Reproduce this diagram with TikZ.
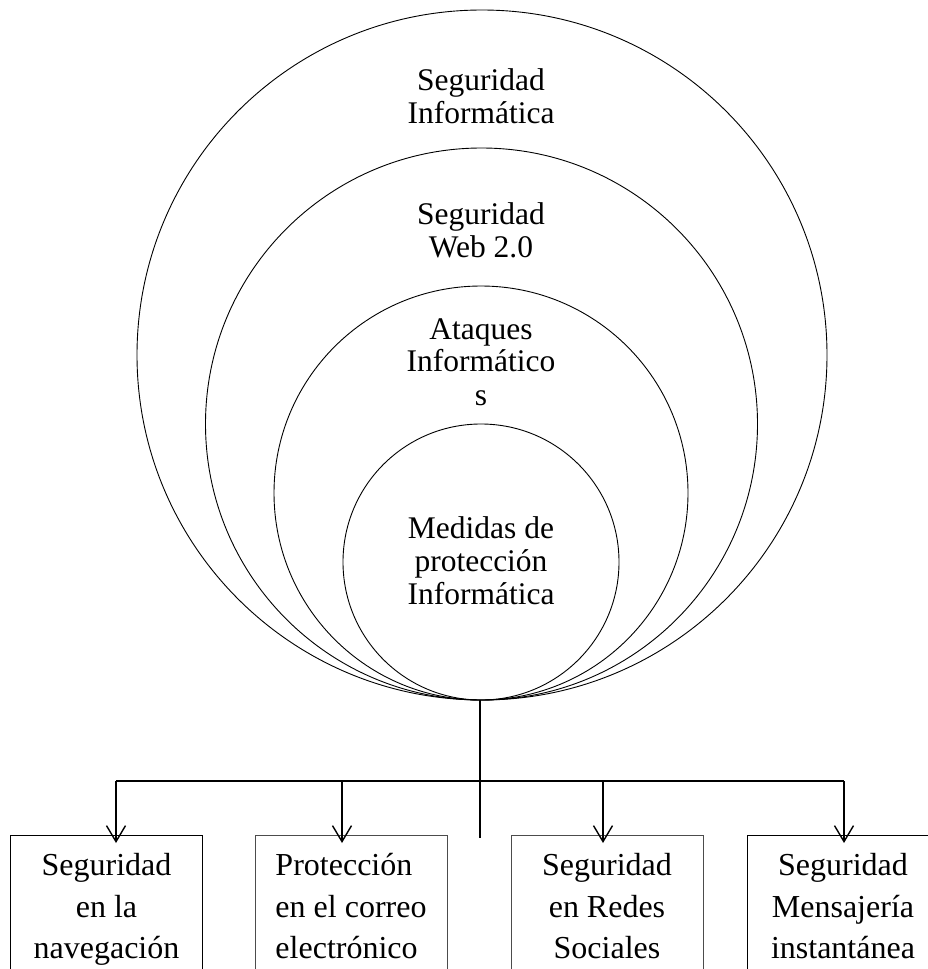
\documentclass[tikz,border=0pt]{standalone}
\usepackage{fontspec}
\setmainfont{Liberation Serif}
\usetikzlibrary{arrows.meta,calc}
\begin{document}
\begin{tikzpicture}[x=1pt,y=-1pt,
  ring/.style={circle,draw,line width=0.9pt,inner sep=0pt},
  ringtext/.style={anchor=north,inner sep=0pt,align=center,font=\fontsize{31.5}{33}\selectfont},
  boxnode/.style={draw,line width=1pt,anchor=north,minimum width=192pt,inner xsep=4pt,inner ysep=18pt,
     font=\fontsize{32}{41.5}\selectfont},
  conn/.style={line width=2pt},
  arr/.style={line width=2pt,-{Straight Barb[length=16pt,width=19pt,line width=1.4pt]}}]
\useasboundingbox (0,0) rectangle (928,969);
\clip (0,0) rectangle (928,969);
% nested circles, all tangent at the bottom
\node[ring,minimum size=690pt] (c1) at (482,355) {};
\node[ring,minimum size=552pt] (c2) at (481.5,424) {};
\node[ring,minimum size=414pt] (c3) at (481,493) {};
\node[ring,minimum size=276pt] (c4) at (481,562) {};
% circle labels
\node[ringtext] (t1) at (481,68.5) {Seguridad\\Informática};
\node[ringtext] (t2) at (481,202.5) {Seguridad\\Web 2.0};
\node[ringtext] (t3) at (481,318) {Ataques\\Informático\\s};
\node[ringtext] (t4) at (481,516.5) {Medidas de\\protección\\Informática};
% boxes
\node[boxnode,align=center] (b1) at (106.5,835) {Seguridad\\en la\\navegación};
\node[boxnode,align=left,draw=black!70] (b2) at (351,835) {Protección\\en el correo\\electrónico};
\node[boxnode,align=center,draw=black!70] (b3) at (607,835) {Seguridad\\en Redes\\Sociales};
\node[boxnode,align=center] (b4) at (843,835) {Seguridad\\Mensajería\\instantánea};
% connectors
\coordinate (root) at (480,700);
\coordinate (tend) at (480,838);
\coordinate (j1) at (116,781);
\coordinate (j2) at (342,781);
\coordinate (j3) at (603,781);
\coordinate (j4) at (844,781);
\draw[conn] (root) -- (tend);
\draw[conn] (j1) -- (j4);
\draw[arr,shorten >=-8pt] (j1) -- (j1 |- b1.north);
\draw[arr,shorten >=-8pt] (j2) -- (j2 |- b2.north);
\draw[arr,shorten >=-8pt] (j3) -- (j3 |- b3.north);
\draw[arr,shorten >=-8pt] (j4) -- (j4 |- b4.north);
\end{tikzpicture}
\end{document}
